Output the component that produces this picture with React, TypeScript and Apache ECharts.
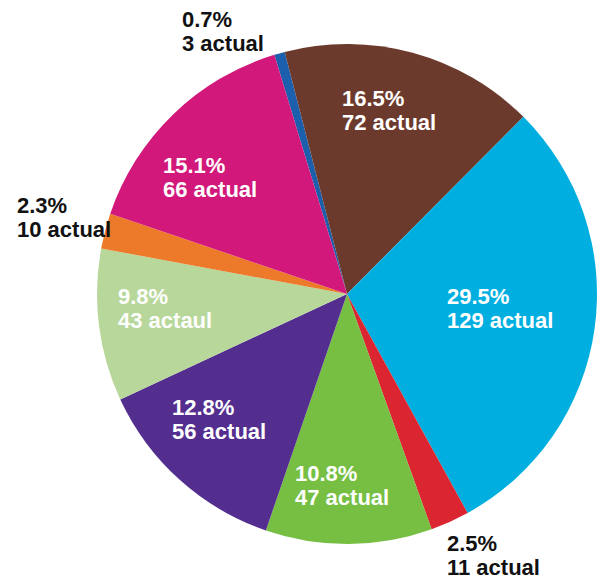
import React, { useEffect, useRef } from "react";
import * as echarts from "echarts";

// Data (clockwise from the top)
const categories = ["A", "B", "C", "D", "E", "F", "G", "H", "I"];
const actualValues = [3, 72, 129, 11, 47, 56, 43, 10, 66];
const percentLabels = ["0.7%", "16.5%", "29.5%", "2.5%", "10.8%", "12.8%", "9.8%", "2.3%", "15.1%"];
const actualWords = ["actual", "actual", "actual", "actual", "actual", "actual", "actaul", "actual", "actual"];

// Styling / layout (kept separate from data)
const sliceColors = ["#1c5fac", "#6c3a2c", "#00aee0", "#db2531", "#76bf43", "#532e8f", "#b8d79b", "#ed7a2b", "#d2187a"];
const labelColors = ["#111", "#fff", "#fff", "#111", "#fff", "#fff", "#fff", "#111", "#fff"];
const labelPos: [number, number][] = [
  [182, 7],
  [342, 86],
  [447, 284],
  [447, 531],
  [295, 461],
  [172, 395],
  [118, 284],
  [17, 193],
  [163, 153],
];

export default function App() {
  const ref = useRef<HTMLDivElement>(null);
  useEffect(() => {
    document.body.style.margin = "0";
    if (!ref.current) return;
    const chart = echarts.init(ref.current, null, { renderer: "svg" });
    chart.setOption({
      animation: false,
      backgroundColor: "#ffffff",
      series: [
        {
          type: "pie",
          center: [347, 294],
          radius: [0, 250],
          startAngle: 106.9,
          clockwise: true,
          avoidLabelOverlap: false,
          itemStyle: { borderWidth: 0 },
          label: {
            show: true,
            position: "inside",
            fontFamily: "Liberation Sans, Arial, sans-serif",
            fontWeight: "bold",
            fontSize: 22,
            lineHeight: 24,
          },
          labelLine: { show: false },
          labelLayout: (params: any) => ({
            x: labelPos[params.dataIndex][0],
            y: labelPos[params.dataIndex][1],
            align: "left",
            verticalAlign: "top",
          }),
          emphasis: { disabled: true },
          data: categories.map((c, i) => ({
            name: c,
            value: actualValues[i],
            itemStyle: { color: sliceColors[i] },
            label: {
              color: labelColors[i],
              formatter: () => `${percentLabels[i]}\n${actualValues[i]} ${actualWords[i]}`,
            },
          })),
        },
      ],
    });
    return () => chart.dispose();
  }, []);
  return <div ref={ref} style={{ width: 599, height: 580 }} />;
}
